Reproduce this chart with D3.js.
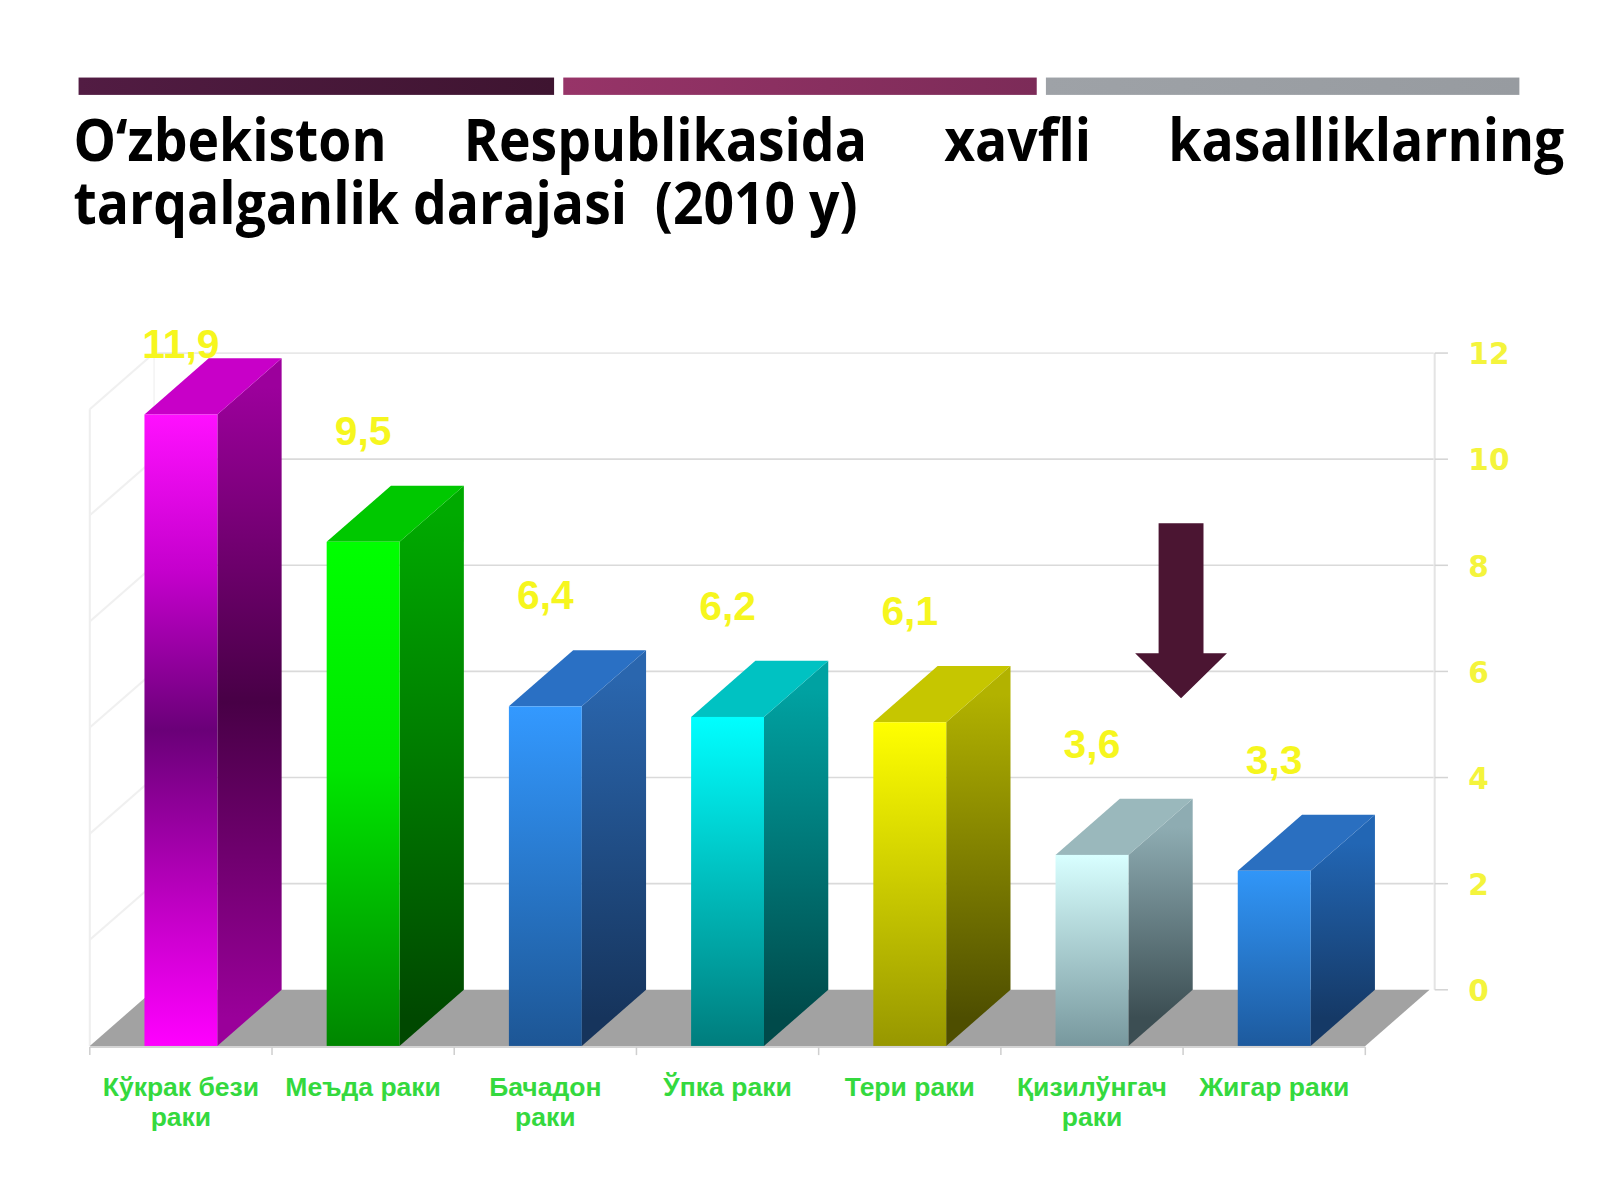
<!DOCTYPE html>
<html>
<head>
<meta charset="utf-8">
<script src="https://cdn.jsdelivr.net/npm/d3@7/dist/d3.min.js"></script>
<style>
  html, body { margin: 0; padding: 0; background: #ffffff; }
  svg { display: block; }
</style>
</head>
<body>
<svg id="chart" width="1600" height="1200" viewBox="0 0 1568 1176"></svg>
<script>
// ---------------- DATA ----------------
const titleLine1 = ["O‘zbekiston", "Respublikasida", "xavfli", "kasalliklarning"];
const titleLine2 = "tarqalganlik darajasi  (2010 y)";
const categories = [
  ["Кўкрак бези", "раки"],
  ["Меъда раки"],
  ["Бачадон", "раки"],
  ["Ўпка раки"],
  ["Тери раки"],
  ["Қизилўнгач", "раки"],
  ["Жигар раки"]
];
const values = [11.9, 9.5, 6.4, 6.2, 6.1, 3.6, 3.3];
const valueLabels = ["11,9", "9,5", "6,4", "6,2", "6,1", "3,6", "3,3"];
const yTicks = [0, 2, 4, 6, 8, 10, 12];

// ---------------- STYLES ----------------
const palette = [
  { front: [[0, "#ff10ff"], [0.25, "#c400cc"], [0.5, "#6a0078"], [0.78, "#c000c4"], [1, "#ff00ff"]],
    side:  [[0, "#9c009c"], [0.5, "#480046"], [1, "#9a009a"]], top: "#c800c8" },
  { front: [[0, "#00ff00"], [0.45, "#00e600"], [1, "#008600"]],
    side:  [[0, "#00aa00"], [1, "#004800"]], top: "#00c800" },
  { front: [[0, "#3399ff"], [1, "#1d5695"]],
    side:  [[0, "#2a66ae"], [1, "#16345c"]], top: "#2a70c4" },
  { front: [[0, "#00ffff"], [1, "#007d7d"]],
    side:  [[0, "#00a2a2"], [1, "#004a4a"]], top: "#00c2c2" },
  { front: [[0, "#ffff00"], [1, "#979700"]],
    side:  [[0, "#b2b200"], [1, "#4e4e00"]], top: "#c6c600" },
  { front: [[0, "#d8ffff"], [1, "#78989e"]],
    side:  [[0, "#8eacb2"], [1, "#3c4e53"]], top: "#9ab8bc" },
  { front: [[0, "#3196f8"], [1, "#1d5a9e"]],
    side:  [[0, "#2266b4"], [1, "#153966"]], top: "#2a6fc0" }
];

const svg = d3.select("#chart");
const defs = svg.append("defs");

// ---------------- HEADER BARS ----------------
const headerBars = [
  { x0: 77, x1: 543, c0: "#521c43", c1: "#3e1430" },
  { x0: 552, x1: 1016, c0: "#973468", c1: "#7c2b58" },
  { x0: 1025, x1: 1489, c0: "#9ea2a7", c1: "#979ba0" }
];
headerBars.forEach((b, i) => {
  const g = defs.append("linearGradient").attr("id", "hb" + i).attr("x1", 0).attr("x2", 1).attr("y1", 0).attr("y2", 0);
  g.append("stop").attr("offset", 0).attr("stop-color", b.c0);
  g.append("stop").attr("offset", 1).attr("stop-color", b.c1);
  svg.append("rect").attr("x", b.x0).attr("y", 76).attr("width", b.x1 - b.x0).attr("height", 17)
    .attr("fill", `url(#hb${i})`);
});

// ---------------- TITLE ----------------
const titleFont = "'Open Sans', 'Noto Sans', sans-serif";
const tLeft = 72, tRight = 1533, tSize = 52.4;
const t1 = svg.append("g").attr("transform", "translate(0,158) scale(1,1.09)");
const words = t1.selectAll("text").data(titleLine1).join("text")
  .attr("y", 0)
  .attr("font-family", titleFont).attr("font-weight", 700).attr("font-size", tSize)
  .attr("fill", "#000").text(d => d);
const widths = [];
words.each(function () { widths.push(this.getComputedTextLength()); });
const gap = (tRight - tLeft - d3.sum(widths)) / (titleLine1.length - 1);
let cx = tLeft;
words.each(function (d, i) { d3.select(this).attr("x", cx); cx += widths[i] + gap; });
svg.append("g").attr("transform", "translate(0,220) scale(1,1.09)")
  .append("text").attr("x", tLeft).attr("y", 0)
  .attr("font-family", titleFont).attr("font-weight", 700).attr("font-size", tSize)
  .attr("fill", "#000").style("white-space", "pre").text(titleLine2);

// ---------------- CHART GEOMETRY ----------------
const x = d3.scaleBand().domain(d3.range(values.length)).range([88, 1338]).paddingInner(0).paddingOuter(0);
const yF = d3.scaleLinear().domain([0, 12]).range([1025, 401]);
const DX = 63, DY = -55;           // depth offset of the 3D box
const yB = v => yF(v) + DY;         // back-wall y
const xL = x.range()[0], xR = x.range()[1];

// back wall gridlines
svg.append("g").selectAll("line").data(yTicks.filter(t => t > 0)).join("line")
  .attr("x1", xL + DX).attr("x2", xR + DX + 4)
  .attr("y1", d => yB(d)).attr("y2", d => yB(d))
  .attr("stroke", d => d === 12 ? "#e8e8e8" : "#dadada").attr("stroke-width", 1.6);

// left wall
const lw = svg.append("g");
lw.append("line").attr("x1", xL).attr("x2", xL).attr("y1", yF(0)).attr("y2", yF(12))
  .attr("stroke", "#eeeeee").attr("stroke-width", 2);
lw.append("line").attr("x1", xL + DX).attr("x2", xL + DX).attr("y1", yB(0)).attr("y2", yB(12))
  .attr("stroke", "#f3f3f3").attr("stroke-width", 1.5);
lw.selectAll("line.d").data(yTicks.filter(t => t > 0)).join("line").attr("class", "d")
  .attr("x1", xL).attr("x2", xL + DX).attr("y1", d => yF(d)).attr("y2", d => yB(d))
  .attr("stroke", "#f0f0f0").attr("stroke-width", 2);

// floor
svg.append("path")
  .attr("d", `M${xL},${yF(0)} L${xR},${yF(0)} L${xR + DX},${yB(0)} L${xL + DX},${yB(0)} Z`)
  .attr("fill", "#a2a2a2");
svg.append("line").attr("x1", xL).attr("x2", xR).attr("y1", yF(0) + 1).attr("y2", yF(0) + 1)
  .attr("stroke", "#d4d4d4").attr("stroke-width", 2);

// category ticks
svg.append("g").selectAll("line").data(d3.range(values.length + 1)).join("line")
  .attr("x1", i => xL + i * x.step()).attr("x2", i => xL + i * x.step())
  .attr("y1", yF(0) + 1).attr("y2", yF(0) + 9)
  .attr("stroke", "#cfcfcf").attr("stroke-width", 1.5);

// y axis (right)
const axX = xR + DX + 5;
const ax = svg.append("g");
ax.append("line").attr("x1", axX).attr("x2", axX).attr("y1", yB(0)).attr("y2", yB(12))
  .attr("stroke", "#e4e4e4").attr("stroke-width", 2);
ax.selectAll("line.t").data(yTicks).join("line").attr("class", "t")
  .attr("x1", axX).attr("x2", axX + 13).attr("y1", d => yB(d)).attr("y2", d => yB(d))
  .attr("stroke", "#d4d4d4").attr("stroke-width", 1.5);
ax.selectAll("text").data(yTicks).join("text")
  .attr("x", axX + 33).attr("y", d => yB(d) + 11)
  .attr("font-family", "'DejaVu Sans', sans-serif").attr("font-weight", 700).attr("font-size", 29)
  .attr("fill", "#f4f43c").text(d => d);

// ---------------- BARS ----------------
function grad(id, stops, x1, y1, x2, y2) {
  const g = defs.append("linearGradient").attr("id", id)
    .attr("gradientUnits", "userSpaceOnUse")
    .attr("x1", x1).attr("y1", y1).attr("x2", x2).attr("y2", y2);
  stops.forEach(s => g.append("stop").attr("offset", s[0]).attr("stop-color", s[1]));
}

const bw = x.bandwidth() * 0.4;
const bars = svg.append("g");
values.forEach((v, i) => {
  const p = palette[i];
  const x0 = x(i) + x.bandwidth() * 0.3, x1 = x0 + bw;
  const yt = yF(v), yb = yF(0);
  grad("f" + i, p.front, 0, yt, 0, yb);
  grad("s" + i, p.side, 0, yt + DY / 2, 0, yb + DY / 2);
  const g = bars.append("g");
  g.append("path")
    .attr("d", `M${x1},${yt} L${x1 + DX},${yt + DY} L${x1 + DX},${yb + DY} L${x1},${yb} Z`)
    .attr("fill", `url(#s${i})`);
  g.append("path")
    .attr("d", `M${x0},${yt} L${x0 + DX},${yt + DY} L${x1 + DX},${yt + DY} L${x1},${yt} Z`)
    .attr("fill", p.top);
  g.append("rect").attr("x", x0).attr("y", yt).attr("width", bw).attr("height", yb - yt)
    .attr("fill", `url(#f${i})`);
});

// value labels
svg.append("g").selectAll("text").data(values).join("text")
  .attr("x", (d, i) => x(i) + x.bandwidth() / 2)
  .attr("y", d => Math.max(yB(d) - 40, 351))
  .attr("text-anchor", "middle")
  .attr("font-family", "'Liberation Sans', Arial, sans-serif").attr("font-weight", 700).attr("font-size", 40)
  .attr("fill", "#f6f61e")
  .text((d, i) => valueLabels[i]);

// category labels
const cl = svg.append("g").selectAll("text").data(categories).join("text")
  .attr("text-anchor", "middle")
  .attr("font-family", "'Liberation Sans', Arial, sans-serif").attr("font-weight", 700).attr("font-size", 26)
  .attr("fill", "#34d93e");
cl.each(function (lines, i) {
  const t = d3.select(this);
  lines.forEach((ln, k) => {
    t.append("tspan").attr("x", x(i) + x.bandwidth() / 2).attr("y", 1074 + k * 29).text(ln);
  });
});

// ---------------- ARROW ----------------
const arX = x(6) - 2;
const arTop = yF(9.85), arNeck = yF(7.4), arTip = yF(6.55);
svg.append("path")
  .attr("d", `M${arX - 22},${arTop} L${arX + 22},${arTop} L${arX + 22},${arNeck} L${arX + 45},${arNeck}
              L${arX},${arTip} L${arX - 45},${arNeck} L${arX - 22},${arNeck} Z`)
  .attr("fill", "#4b1532");
</script>
</body>
</html>
